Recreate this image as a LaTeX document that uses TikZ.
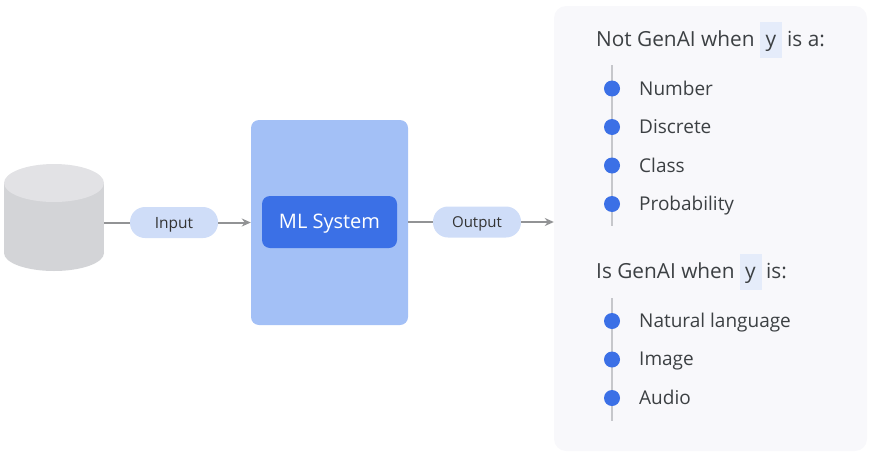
\documentclass[tikz,border=0pt]{standalone}
\usepackage{xcolor}
\usepackage{fontspec}
\setmainfont{Open Sans}
\usepackage{tikz}
\usetikzlibrary{shapes.geometric, arrows.meta}
\definecolor{mlouter}{HTML}{A3C0F6}
\definecolor{mlinner}{HTML}{3B70E6}
\definecolor{pillfill}{HTML}{CFDDF8}
\definecolor{panelfill}{HTML}{F8F8FB}
\definecolor{chipfill}{HTML}{E5ECFA}
\definecolor{inktext}{HTML}{3C4043}
\definecolor{railgray}{HTML}{C6C7CB}
\definecolor{arrowgray}{HTML}{929395}
\definecolor{dbtop}{HTML}{E2E2E5}
\definecolor{dbbody}{HTML}{D3D4D7}
\tikzstyle{database} = [rectangle, minimum width=100pt, minimum height=107pt, inner sep=0pt]
\tikzstyle{pill} = [rectangle, rounded corners=15pt, minimum width=88pt, minimum height=31pt, inner sep=0pt, text height=14pt, text depth=3pt, text centered, fill=pillfill, text=black!80]
\tikzstyle{outerbox} = [rectangle, rounded corners=8pt, minimum width=157pt, minimum height=205pt, fill=mlouter]
\tikzstyle{innerbox} = [rectangle, rounded corners=8pt, minimum width=135pt, minimum height=52pt, text height=16pt, text depth=4pt, text centered, fill=mlinner, text=white, font=\fontsize{20}{20}\selectfont]
\tikzstyle{panel} = [rectangle, rounded corners=12pt, minimum width=313pt, minimum height=445pt, fill=panelfill]
\tikzstyle{heading} = [anchor=base west, inner sep=0pt, text=inktext, font=\fontsize{20.8}{21}\selectfont]
\tikzstyle{chip} = [rectangle, anchor=base, minimum width=22pt, text height=24pt, text depth=12pt, inner xsep=0pt, inner ysep=0pt, fill=chipfill, text=inktext, font=\fontsize{21}{21}\selectfont]
\tikzstyle{dot} = [circle, minimum size=16pt, inner sep=0pt, fill=mlinner]
\tikzstyle{item} = [anchor=base west, inner sep=0pt, text=inktext, font=\fontsize{19}{19}\selectfont]
\tikzstyle{rail} = [line width=2pt, draw=railgray]
\tikzstyle{line} = [line width=2pt, draw=arrowgray]
\tikzstyle{arrow} = [line width=2pt, draw=arrowgray, -{Stealth[length=9pt, width=8pt]}]

\begin{document}
\begin{tikzpicture}[x=1pt, y=-1pt, node distance=38.5pt]
   \useasboundingbox (0,0) rectangle (869,455);
   \node (panel) [panel] at (710.5,228.5) {};
   \node (db) [database] at (54,217.5) {};
   \fill [dbbody] (db.north west |- 0,183) rectangle (db.east |- 0,253);
   \fill [dbbody] (54,253) ellipse (50 and 18);
   \fill [dbtop] (54,183) ellipse (50 and 19);
   \node (mlbox) [outerbox] at (329.5,222.5) {};
   \node (mlsys) [innerbox] at (329.5,222) {ML System};
   \node (input) [pill, font=\fontsize{15.5}{16}\selectfont] at (174,222.5) {Input};
   \node (output) [pill, font=\fontsize{15}{16}\selectfont] at (477,222) {Output};
   \draw [line] (db.east |- input.west) -- (input.west);
   \draw [arrow] (input.east) -- (input.east -| mlbox.west);
   \draw [line] (output.west -| mlbox.east) -- (output.west);
   \draw [arrow] (output.east) -- (output.east -| panel.west);

   \node (nothead) [heading] at (596,46) {Not GenAI when};
   \node (noty) [chip] at (771,46) {y};
   \node (nottail) [heading] at (787,46) {is a:};
   \coordinate (railatop) at (612,65);
   \coordinate (railabot) at (612,226);
   \draw [rail] (railatop) -- (railabot);
   \node (dotnum) [dot] at (612,88.5) {};
   \node (dotdis) [dot, below of=dotnum] {};
   \node (dotcla) [dot, below of=dotdis] {};
   \node (dotpro) [dot, below of=dotcla] {};
   \node (number) [item] at (639,95) {Number};
   \node (discrete) [item] at (639,133.5) {Discrete};
   \node (class) [item] at (639,172) {Class};
   \node (prob) [item] at (639,210.5) {Probability};

   \node (ishead) [heading] at (596,278) {Is GenAI when};
   \node (isy) [chip] at (750.5,278) {y};
   \node (istail) [heading] at (766,278) {is:};
   \coordinate (railbtop) at (612,298);
   \coordinate (railbbot) at (612,421);
   \draw [rail] (railbtop) -- (railbbot);
   \node (dotnat) [dot] at (612,321) {};
   \node (dotima) [dot, below of=dotnat] {};
   \node (dotaud) [dot, below of=dotima] {};
   \node (natural) [item] at (639,327) {Natural language};
   \node (image) [item] at (639,365.5) {Image};
   \node (audio) [item] at (639,404) {Audio};
\end{tikzpicture}
\end{document}
